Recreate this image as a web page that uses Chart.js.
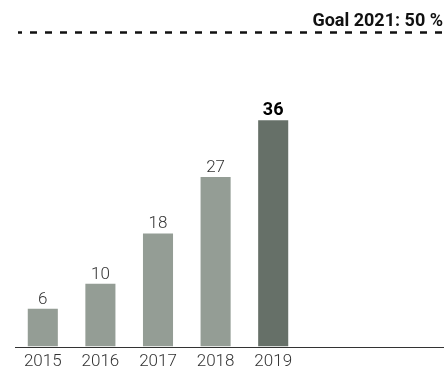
<!DOCTYPE html>
<html>
<head>
<meta charset="utf-8">
<script src="https://cdn.jsdelivr.net/npm/chart.js@4"></script>
<style>
  html, body { margin: 0; padding: 0; background: #fff; }
  #chart { display: block; }
</style>
</head>
<body>
<canvas id="chart" width="444" height="371"></canvas>
<script>
// ============================================================
// DATA
// ============================================================
const years = ["2015", "2016", "2017", "2018", "2019"];
const shares = [6, 10, 18, 27, 36];
const goalValue = 50;
const goalLabel = "Goal 2021: 50 %";

const FONT = "Roboto, sans-serif";
const barColors = years.map((y, i) => (i === years.length - 1 ? "#667068" : "#949d95"));

// ============================================================
// PLUGINS
// ============================================================
// baseline running across the full width
const baselinePlugin = {
  id: "baseline",
  afterDatasetsDraw(chart) {
    const { ctx, scales } = chart;
    const y = Math.round(scales.y.getPixelForValue(0)) + 0.5;
    ctx.save();
    ctx.strokeStyle = "#333";
    ctx.lineWidth = 1;
    ctx.beginPath();
    ctx.moveTo(15, y);
    ctx.lineTo(chart.width, y);
    ctx.stroke();
    ctx.restore();
  },
};

// dashed goal line + label
const goalPlugin = {
  id: "goal",
  afterDatasetsDraw(chart) {
    const { ctx, scales } = chart;
    const y = scales.y.getPixelForValue(goalValue);
    ctx.save();
    ctx.strokeStyle = "#111";
    ctx.lineWidth = 2.5;
    ctx.setLineDash([7, 8]);
    ctx.lineDashOffset = 3;
    ctx.beginPath();
    ctx.moveTo(18, y);
    ctx.lineTo(chart.width, y);
    ctx.stroke();
    ctx.setLineDash([]);
    ctx.fillStyle = "#111";
    ctx.font = "bold 18px " + FONT;
    ctx.textAlign = "right";
    ctx.textBaseline = "alphabetic";
    ctx.fillText(goalLabel, chart.width - 1, y - 6);
    ctx.restore();
  },
};

// value on top of each bar, last one in bold
const valueLabels = {
  id: "valueLabels",
  afterDatasetsDraw(chart) {
    const { ctx } = chart;
    const meta = chart.getDatasetMeta(0);
    ctx.save();
    ctx.textAlign = "center";
    ctx.textBaseline = "alphabetic";
    meta.data.forEach((bar, i) => {
      const last = i === shares.length - 1;
      ctx.fillStyle = last ? "#000" : "#333";
      ctx.font = (last ? "bold 18px " : "300 17px ") + FONT;
      ctx.fillText(String(shares[i]), bar.x, bar.y - 5);
    });
    ctx.restore();
  },
};

// ============================================================
// CHART
// ============================================================
new Chart(document.getElementById("chart"), {
  type: "bar",
  data: {
    labels: years,
    datasets: [
      {
        data: shares,
        backgroundColor: barColors,
        borderWidth: 0,
        categoryPercentage: 1,
        barPercentage: 0.522,
      },
    ],
  },
  options: {
    responsive: false,
    animation: false,
    layout: { padding: { left: 14, right: 142, top: 1, bottom: 0 } },
    plugins: { legend: { display: false }, tooltip: { enabled: false } },
    scales: {
      x: {
        grid: { display: false, drawTicks: false },
        border: { display: false },
        ticks: {
          color: "#333",
          font: { family: FONT, size: 17, weight: "300" },
          padding: 5,
          maxRotation: 0,
        },
        afterFit(scale) {
          scale.height = 24.5;
        },
      },
      y: {
        display: false,
        min: 0,
        max: 55,
      },
    },
  },
  plugins: [baselinePlugin, goalPlugin, valueLabels],
});
</script>
</body>
</html>
